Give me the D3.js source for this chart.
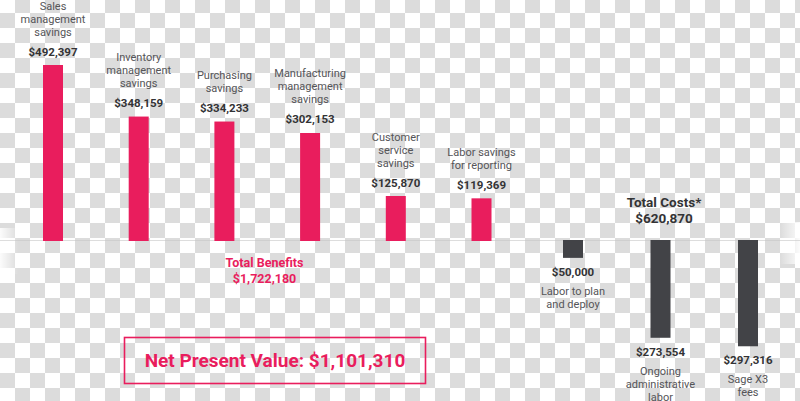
<!DOCTYPE html>
<html>
<head>
<meta charset="utf-8">
<script src="https://cdn.jsdelivr.net/npm/d3@7"></script>
<style>
  html, body { margin: 0; padding: 0; background: #fff; }
  svg { display: block; }
</style>
</head>
<body>
<svg id="chart" width="800" height="401"></svg>
<script>
// ---- Data ----
const benefitCategories = [
  "Sales\nmanagement\nsavings",
  "Inventory\nmanagement\nsavings",
  "Purchasing\nsavings",
  "Manufacturing\nmanagement\nsavings",
  "Customer\nservice\nsavings",
  "Labor savings\nfor reporting"
];
const benefitValues = [492397, 348159, 334233, 302153, 125870, 119369];

const costCategories = [
  "Labor to plan\nand deploy",
  "Ongoing\nadministrative\nlabor",
  "Sage X3\nfees"
];
const costValues = [50000, 273554, 297316];

const totalBenefitsLabel = ["Total Benefits", 1722180];
const totalCostsLabel = ["Total Costs*", 620870];
const npvLabel = ["Net Present Value: ", 1101310];

// ---- Setup ----
const W = 800, H = 401;
const svg = d3.select("#chart");
const fmt = d3.format("$,");
const PINK = "#e91d5d";
const DARK = "#424347";
const LABEL = "#555558";
const VALUE = "#333335";
const FONT = "Roboto, 'Noto Sans', sans-serif";

// checkerboard background (transparent-image look)
const defs = svg.append("defs");
const pat = defs.append("pattern")
  .attr("id", "checker").attr("patternUnits", "userSpaceOnUse")
  .attr("width", 30).attr("height", 30)
  .attr("patternTransform", "translate(0,-2)");
pat.append("rect").attr("width", 30).attr("height", 30).attr("fill", "#ffffff");
pat.append("rect").attr("x", 15).attr("y", 0).attr("width", 15).attr("height", 15).attr("fill", "#dcdcdc");
pat.append("rect").attr("x", 0).attr("y", 15).attr("width", 15).attr("height", 15).attr("fill", "#dcdcdc");
svg.append("rect").attr("width", W).attr("height", H).attr("fill", "url(#checker)");

const gl = defs.append("linearGradient").attr("id", "fadeL");
gl.append("stop").attr("offset", "0%").attr("stop-color", "#fff").attr("stop-opacity", 0.9);
gl.append("stop").attr("offset", "100%").attr("stop-color", "#fff").attr("stop-opacity", 0);
const gr = defs.append("linearGradient").attr("id", "fadeR");
gr.append("stop").attr("offset", "0%").attr("stop-color", "#fff").attr("stop-opacity", 0);
gr.append("stop").attr("offset", "100%").attr("stop-color", "#fff").attr("stop-opacity", 0.9);
svg.append("rect").attr("x", 0).attr("y", 228).attr("width", 18).attr("height", 46).attr("fill", "url(#fadeL)");
svg.append("rect").attr("x", 780).attr("y", 222).attr("width", 20).attr("height", 42).attr("fill", "url(#fadeR)");

// baseline
const baseY = 240.5;
svg.append("line").attr("x1", 0).attr("x2", W).attr("y1", baseY).attr("y2", baseY)
  .attr("stroke", "#c8c8c8").attr("stroke-width", 1).attr("opacity", 0.6);

// ---- Scales ----
const xB = d3.scalePoint().domain(benefitCategories).range([53, 481.5]);
const xC = d3.scalePoint().domain(costCategories).range([573, 748]);
const h = d3.scaleLinear().domain([0, 492397]).range([0, 176]);
const barW = 20;

// ---- Benefit bars ----
const gB = svg.append("g");
benefitCategories.forEach((c, i) => {
  const v = benefitValues[i];
  const cx = xB(c);
  const top = baseY + 0.5 - h(v);
  gB.append("rect").attr("x", cx - barW / 2).attr("y", top)
    .attr("width", barW).attr("height", h(v)).attr("fill", PINK);
  const valY = top - 9.5;
  gB.append("text").attr("x", cx).attr("y", valY).attr("text-anchor", "middle")
    .attr("font-family", FONT).attr("font-weight", 700).attr("font-size", 11.5)
    .attr("fill", VALUE).text(fmt(v));
  const lines = c.split("\n");
  lines.forEach((ln, j) => {
    gB.append("text").attr("x", cx)
      .attr("y", valY - 20 - (lines.length - 1 - j) * 13)
      .attr("text-anchor", "middle").attr("font-family", FONT)
      .attr("font-size", 11).attr("fill", LABEL).text(ln);
  });
});

// ---- Cost bars ----
const gC = svg.append("g");
costCategories.forEach((c, i) => {
  const v = costValues[i];
  const cx = xC(c);
  const top = baseY - 0.5;
  const bot = top + h(v);
  gC.append("rect").attr("x", cx - barW / 2).attr("y", top)
    .attr("width", barW).attr("height", h(v)).attr("fill", DARK);
  const valY = bot + 18;
  gC.append("text").attr("x", cx).attr("y", valY).attr("text-anchor", "middle")
    .attr("font-family", FONT).attr("font-weight", 700).attr("font-size", 11.5)
    .attr("fill", VALUE).text(fmt(v));
  c.split("\n").forEach((ln, j) => {
    gC.append("text").attr("x", cx).attr("y", valY + 19 + j * 13)
      .attr("text-anchor", "middle").attr("font-family", FONT)
      .attr("font-size", 11).attr("fill", LABEL).text(ln);
  });
});

// ---- Totals ----
const tb = svg.append("g").attr("font-family", FONT).attr("font-weight", 700)
  .attr("fill", PINK).attr("text-anchor", "middle").attr("font-size", 12.5);
tb.append("text").attr("x", 264.5).attr("y", 267).text(totalBenefitsLabel[0]);
tb.append("text").attr("x", 264.5).attr("y", 283).text(fmt(totalBenefitsLabel[1]));

const tc = svg.append("g").attr("font-family", FONT).attr("font-weight", 700)
  .attr("fill", VALUE).attr("text-anchor", "middle").attr("font-size", 13.5);
tc.append("text").attr("x", 664).attr("y", 207).text(totalCostsLabel[0]);
tc.append("text").attr("x", 664).attr("y", 223).text(fmt(totalCostsLabel[1]));

// ---- NPV box ----
svg.append("rect").attr("x", 124.5).attr("y", 337.5).attr("width", 301).attr("height", 46)
  .attr("fill", "none").attr("stroke", PINK).attr("stroke-width", 1.6);
svg.append("text").attr("x", 275).attr("y", 366.5).attr("text-anchor", "middle")
  .attr("font-family", FONT).attr("font-weight", 700).attr("font-size", 19)
  .attr("fill", PINK).text(npvLabel[0] + fmt(npvLabel[1]));
</script>
</body>
</html>
